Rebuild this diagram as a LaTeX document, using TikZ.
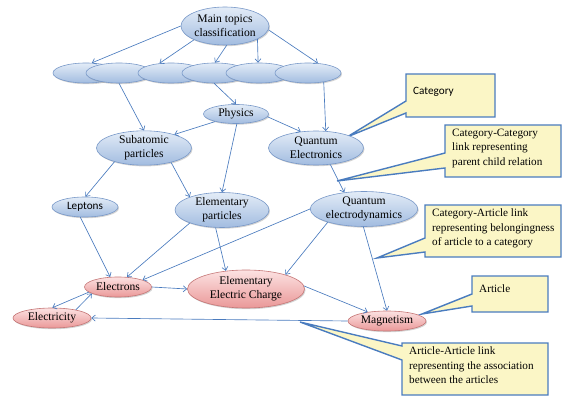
\documentclass[tikz,border=0pt]{standalone}
\usepackage{fontspec}
\setmainfont{Liberation Serif}
\newfontfamily\calfont{Carlito}
\usetikzlibrary{shapes.geometric,arrows.meta,shadows}
\definecolor{edgeblue}{HTML}{4A7BBE}
\definecolor{bluetop}{HTML}{E3ECF7}
\definecolor{bluebot}{HTML}{A2BCE0}
\definecolor{blueline}{HTML}{7898C8}
\definecolor{pinktop}{HTML}{FCE2E2}
\definecolor{pinkbot}{HTML}{EA9898}
\definecolor{pinkline}{HTML}{C57676}
\definecolor{callfill}{HTML}{FBF6C6}
\definecolor{callline}{HTML}{4A7CBF}
\tikzset{
  cat/.style={ellipse, inner sep=0pt, draw=blueline, line width=0.6pt,
    top color=bluetop, bottom color=bluebot, align=center,
    font=\fontsize{11.6}{13.8}\selectfont,
    drop shadow={shadow xshift=1pt, shadow yshift=-1.2pt, opacity=0.35}},
  art/.style={ellipse, inner sep=0pt, draw=pinkline, line width=0.6pt,
    top color=pinktop, bottom color=pinkbot, align=center,
    font=\fontsize{11.6}{13.8}\selectfont,
    drop shadow={shadow xshift=1pt, shadow yshift=-1.2pt, opacity=0.35}},
  link/.style={draw=edgeblue, line width=0.65pt, -{Straight Barb[length=3.5pt,width=6pt]}},
  callout/.style={fill=callfill, draw=callline, line width=1.4pt, line join=miter},
  calltext/.style={anchor=north west, align=left, inner sep=0pt,
    font=\fontsize{11.2}{14.3}\selectfont},
}
\begin{document}
\begin{tikzpicture}[x=1pt,y=-1pt]
\useasboundingbox (0,0) rectangle (563,396);
% callouts
\path[callout] (406,74) -- (495,74) -- (495,117) -- (406,117) -- (406,113) -- (347,137) -- (406,101) -- cycle;
\node[calltext, anchor=west, font=\calfont\fontsize{11.2}{13}\selectfont] (tcat) at (413,92) {Category};
\path[callout] (445,125) -- (561,125) -- (561,177) -- (445,177) -- (445,168) -- (337,181) -- (445,153) -- cycle;
\node[calltext] (tcc) at (452,129) {Category-Category\\link representing\\parent child relation};
\path[callout] (425,205) -- (561,205) -- (561,257) -- (425,257) -- (425,252) -- (377,258) -- (425,238) -- cycle;
\node[calltext] (tca) at (432,209) {Category-Article link\\representing belongingness\\of article to a category};
\path[callout] (472,276) -- (548,276) -- (548,312) -- (472,312) -- (472,306) -- (422,314) -- (472,294) -- cycle;
\node[calltext, anchor=west] (tart) at (479,289) {Article};
\path[callout] (402,343) -- (548,343) -- (548,395) -- (402,395) -- (402,360) -- (300,322) -- (402,346) -- cycle;
\node[calltext] (taa) at (409,347) {Article-Article link\\representing the association\\between the articles};
% category nodes
\node[cat, minimum width=88pt, minimum height=38pt] (main) at (225,26) {Main topics\\classification};
\node[cat, minimum width=66pt, minimum height=20pt] (e1) at (86,73) {};
\node[cat, minimum width=66pt, minimum height=20pt] (e2) at (119,73) {};
\node[cat, minimum width=66pt, minimum height=20pt] (e3) at (171,73) {};
\node[cat, minimum width=66pt, minimum height=20pt] (e4) at (215,73) {};
\node[cat, minimum width=66pt, minimum height=20pt] (e5) at (259,73) {};
\node[cat, minimum width=66pt, minimum height=20pt] (e6) at (308,73) {};
\node[cat, minimum width=65pt, minimum height=19pt] (phys) at (236,114) {Physics};
\node[cat, minimum width=95pt, minimum height=34pt] (sub) at (144,148) {Subatomic\\particles};
\node[cat, minimum width=95pt, minimum height=34pt] (qe) at (316,148) {Quantum\\Electronics};
\node[cat, minimum width=66pt, minimum height=20pt, font=\calfont\fontsize{11.2}{13}\selectfont] (lep) at (85,207) {Leptons};
\node[cat, minimum width=94pt, minimum height=35pt] (ep) at (222,210) {Elementary\\particles};
\node[cat, minimum width=106pt, minimum height=35pt] (qed) at (364,209) {Quantum\\electrodynamics};
% article nodes
\node[art, minimum width=67pt, minimum height=20pt] (el) at (118,287) {Electrons};
\node[art, minimum width=117pt, minimum height=38pt] (eec) at (246,289) {Elementary\\Electric Charge};
\node[art, minimum width=78pt, minimum height=20pt] (elec) at (52,318) {Electricity};
\node[art, minimum width=78pt, minimum height=20pt] (mag) at (387,321) {Magnetism};
% links
\draw[link] (main.180) -- (e1.60);
\draw[link] (main.204) -- (e3.140);
\draw[link] (main.275) -- (e4.90);
\draw[link] (main.338) -- (e5.95);
\draw[link] (main.355) -- (e6.45);
\draw[link] (e2.270) -- (sub.90);
\draw[link] (e4.265) -- (phys.90);
\draw[link] (e6.-30) -- (qe.60);
\draw[link] (phys.200) -- (sub.24);
\draw[link] (phys.355) -- (qe.133);
\draw[link] (phys.275) -- (ep.90);
\draw[link] (sub.205) -- (lep.88);
\draw[link] (sub.-28) -- (ep.158);
\draw[link] (qe.-49) -- (qed.140);
\draw[link] (lep.245) -- (el.128);
\draw[link] (ep.202) -- (el.48);
\draw[link] (qed.180) -- (el.16);
\draw[link] (ep.250) -- (eec.138);
\draw[link] (qed.200) -- (eec.20);
\draw[link] (qed.268) -- (mag.90);
\draw[link] (el.0) -- (eec.180);
\draw[link] (eec.3) -- (mag.155);
\draw[link] (el.190) -- (elec.88);
\draw[link] (elec.19) -- (el.194);
\draw[link] (mag.180) -- (elec.0);
\end{tikzpicture}
\end{document}
